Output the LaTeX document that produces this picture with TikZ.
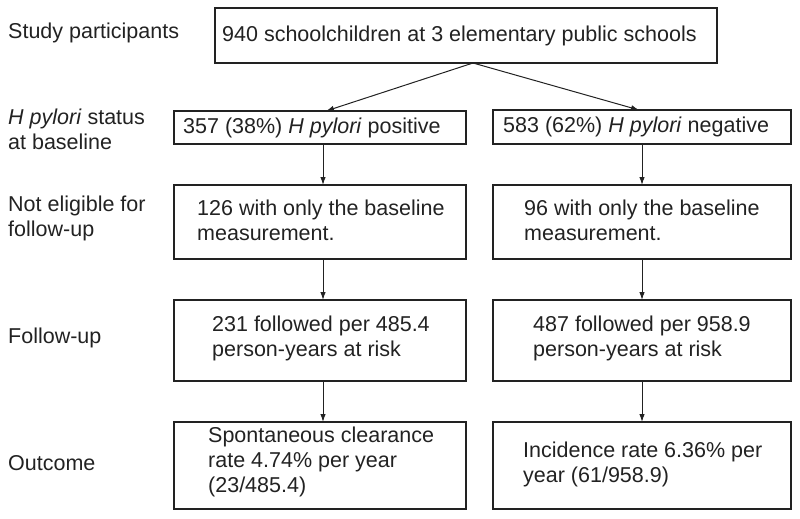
\documentclass[tikz,border=0pt]{standalone}
\usepackage{fontspec}
\setmainfont{Liberation Sans}
\usetikzlibrary{arrows.meta}
\definecolor{ink}{HTML}{222222}
\begin{document}
\begin{tikzpicture}[x=1pt,y=1pt,
  every node/.style={text=ink},
  box/.style={draw=ink, line width=1.2pt, anchor=north west, inner sep=0pt, outer sep=0pt},
  txt/.style={anchor=west, inner sep=0pt, align=left, font=\fontsize{21.5}{25}\selectfont},
  arr/.style={draw=ink, line width=1pt, -{Latex[length=8pt,width=5.5pt]}}]
\useasboundingbox (0,0) rectangle (800,-519);
% boxes
\node[box, minimum width=502, minimum height=55] (top) at (215,-8) {};
\node[box, minimum width=292, minimum height=33] (l2) at (174,-111) {};
\node[box, minimum width=298, minimum height=34] (r2) at (493,-110) {};
\node[box, minimum width=292, minimum height=74] (l3) at (174,-185) {};
\node[box, minimum width=298, minimum height=74] (r3) at (493,-185) {};
\node[box, minimum width=292, minimum height=81] (l4) at (174,-300) {};
\node[box, minimum width=298, minimum height=81] (r4) at (493,-300) {};
\node[box, minimum width=292, minimum height=87] (l5) at (174,-422) {};
\node[box, minimum width=298, minimum height=87] (r5) at (493,-422) {};
% box texts
\node[txt] (ttop) at (222,-35.5) {940 schoolchildren at 3 elementary public schools};
\node[txt] (tl2) at (183,-127.5) {357 (38\%) \textit{H pylori} positive};
\node[txt] (tr2) at (503,-127) {583 (62\%) \textit{H pylori} negative};
\node[txt] (tl3) at (197,-220) {126 with only the baseline\\measurement.};
\node[txt] (tr3) at (524,-220) {96 with only the baseline\\measurement.};
\node[txt] (tl4) at (212,-338) {231 followed per 485.4\\person-years at risk};
\node[txt] (tr4) at (533,-338) {487 followed per 958.9\\person-years at risk};
\node[txt] (tl5) at (208,-462) {Spontaneous clearance\\rate 4.74\% per year\\(23/485.4)};
\node[txt] (tr5) at (523,-464) {Incidence rate 6.36\% per\\year (61/958.9)};
% row labels
\node[txt] (lab1) at (8,-33) {Study participants};
\node[txt] (lab2) at (8,-129) {\textit{H pylori} status\\at baseline};
\node[txt] (lab3) at (8,-218) {Not eligible for\\follow-up};
\node[txt] (lab4) at (8,-338) {Follow-up};
\node[txt] (lab5) at (8,-463) {Outcome};
% connectors
\draw[arr] ([xshift=7pt]top.south) -- ([xshift=6pt]l2.north);
\draw[arr] ([xshift=7pt]top.south) -- ([xshift=-3pt]r2.north);
\draw[arr] ([xshift=3pt]l2.south) -- ([xshift=3pt]l3.north);
\draw[arr] ([xshift=3pt]l3.south) -- ([xshift=3pt]l4.north);
\draw[arr] ([xshift=3pt]l4.south) -- ([xshift=3pt]l5.north);
\draw[arr] (r2.south) -- (r3.north);
\draw[arr] (r3.south) -- (r4.north);
\draw[arr] (r4.south) -- (r5.north);
\end{tikzpicture}
\end{document}
